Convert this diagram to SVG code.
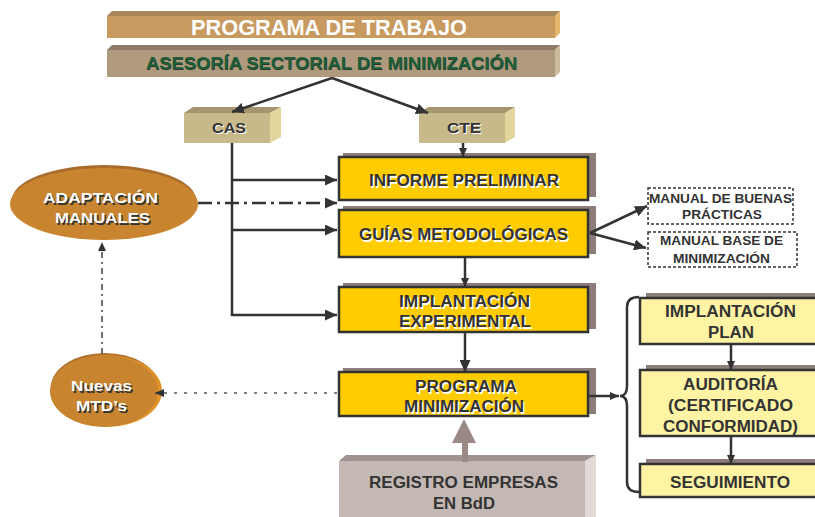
<svg xmlns="http://www.w3.org/2000/svg" width="815" height="517" viewBox="0 0 815 517">
<defs>
<style>
.t{font-family:"Liberation Sans",Arial,sans-serif;font-weight:bold;text-anchor:middle}
.dk{fill:#333333}
.wh{fill:#ffffff}
.box{fill:#FFCC00;stroke:#333333;stroke-width:2.5}
.lbox{fill:#FFF4A3;stroke:#333333;stroke-width:2.5}
.shd{fill:#8C7D7A}
.ln{fill:none;stroke:#333333;stroke-width:2.5}
.dash{fill:#ffffff;stroke:#333333;stroke-width:1.5;stroke-dasharray:3 2}
</style>
<marker id="ah" markerUnits="userSpaceOnUse" markerWidth="12" markerHeight="11" viewBox="0 0 12 11" refX="12" refY="5.5" orient="auto">
<path d="M0,0 L12,5.5 L0,11 z" fill="#333333"/>
</marker>
<marker id="ahs" markerUnits="userSpaceOnUse" markerWidth="9" markerHeight="8" viewBox="0 0 9 8" refX="9" refY="4" orient="auto">
<path d="M0,0 L9,4 L0,8 z" fill="#333333"/>
</marker>
</defs>
<rect width="815" height="517" fill="#ffffff"/>

<g id="programa-trabajo">
<polygon points="107,16 112,11 560,11 555,16" fill="#A8875C"/>
<polygon points="555,16 560,11 560,33 555,38" fill="#E6B66C"/>
<rect x="107" y="16" width="448" height="22" fill="#C89A5F"/>
<text class="t wh" x="329" y="35" font-size="22" textLength="276" lengthAdjust="spacingAndGlyphs">PROGRAMA DE TRABAJO</text>
</g>

<g id="asesoria">
<polygon points="107,50 112,45 560,45 555,50" fill="#8F7C69"/>
<polygon points="555,50 560,45 560,72 555,77" fill="#CDBB9E"/>
<rect x="107" y="50" width="448" height="27" fill="#B09A7E"/>
<text class="t" x="332" y="70" font-size="16" fill="#2A3A2E" textLength="371" lengthAdjust="spacingAndGlyphs">ASESORÍA SECTORIAL DE MINIMIZACIÓN</text>
<text class="t" x="331.5" y="69" font-size="16" fill="#1E5E38" textLength="371" lengthAdjust="spacingAndGlyphs">ASESORÍA SECTORIAL DE MINIMIZACIÓN</text>
</g>

<g id="cas">
<polygon points="184,113 193,107 281,107 270,113" fill="#A6966E"/>
<polygon points="270,113 281,107 281,137 270,143" fill="#E2D69C"/>
<rect x="184" y="113" width="86" height="30" fill="#C8B98A"/>
<text class="t wh" x="230" y="134" font-size="15" textLength="34" lengthAdjust="spacingAndGlyphs">CAS</text>
<text class="t dk" x="229" y="133" font-size="15" textLength="34" lengthAdjust="spacingAndGlyphs">CAS</text>
</g>

<g id="cte">
<polygon points="419,113 428,107 515,107 505,113" fill="#A6966E"/>
<polygon points="505,113 515,107 515,137 505,143" fill="#E2D69C"/>
<rect x="419" y="113" width="86" height="30" fill="#C8B98A"/>
<text class="t wh" x="465" y="134" font-size="15" textLength="34" lengthAdjust="spacingAndGlyphs">CTE</text>
<text class="t dk" x="464" y="133" font-size="15" textLength="34" lengthAdjust="spacingAndGlyphs">CTE</text>
</g>

<g id="informe-preliminar">
<rect class="shd" x="343" y="153" width="253" height="44"/>
<rect class="box" x="339" y="157" width="249" height="43"/>
<text class="t wh" x="465.5" y="187.5" font-size="16" textLength="190" lengthAdjust="spacingAndGlyphs">INFORME PRELIMINAR</text>
<text class="t dk" x="464" y="186" font-size="16" textLength="190" lengthAdjust="spacingAndGlyphs">INFORME PRELIMINAR</text>
</g>

<g id="guias-metodologicas">
<rect class="shd" x="343" y="206" width="253" height="48"/>
<rect class="box" x="339" y="210" width="249" height="47"/>
<text class="t wh" x="465" y="241.5" font-size="16" textLength="209" lengthAdjust="spacingAndGlyphs">GUÍAS METODOLÓGICAS</text>
<text class="t dk" x="463.5" y="240" font-size="16" textLength="209" lengthAdjust="spacingAndGlyphs">GUÍAS METODOLÓGICAS</text>
</g>

<g id="implantacion-experimental">
<rect class="shd" x="343" y="283" width="253" height="46"/>
<rect class="box" x="339" y="287" width="249" height="45"/>
<text class="t wh" x="466" y="308.5" font-size="16" textLength="131" lengthAdjust="spacingAndGlyphs">IMPLANTACIÓN</text>
<text class="t dk" x="464.5" y="307" font-size="16" textLength="131" lengthAdjust="spacingAndGlyphs">IMPLANTACIÓN</text>
<text class="t wh" x="466.5" y="328.5" font-size="16" textLength="132" lengthAdjust="spacingAndGlyphs">EXPERIMENTAL</text>
<text class="t dk" x="465" y="327" font-size="16" textLength="132" lengthAdjust="spacingAndGlyphs">EXPERIMENTAL</text>
</g>

<g id="programa-minimizacion">
<rect class="shd" x="343" y="368" width="253" height="46"/>
<rect class="box" x="339" y="372" width="249" height="44"/>
<text class="t wh" x="467.5" y="393.5" font-size="16" textLength="102" lengthAdjust="spacingAndGlyphs">PROGRAMA</text>
<text class="t dk" x="466" y="392" font-size="16" textLength="102" lengthAdjust="spacingAndGlyphs">PROGRAMA</text>
<text class="t wh" x="465.5" y="413.5" font-size="16" textLength="120" lengthAdjust="spacingAndGlyphs">MINIMIZACIÓN</text>
<text class="t dk" x="464" y="412" font-size="16" textLength="120" lengthAdjust="spacingAndGlyphs">MINIMIZACIÓN</text>
</g>

<g id="registro-empresas">
<polygon points="339,461 346,455 596,455 585,461" fill="#A09290"/>
<polygon points="585,461 596,455 596,517 585,517" fill="#E2DAD7"/>
<rect x="339" y="461" width="246" height="56" fill="#C4B8B4"/>
<text class="t dk" x="463.5" y="488" font-size="16" textLength="189" lengthAdjust="spacingAndGlyphs">REGISTRO EMPRESAS</text>
<text class="t dk" x="464" y="509" font-size="16" textLength="62" lengthAdjust="spacingAndGlyphs">EN BdD</text>
</g>

<g id="adaptacion-manuales">
<ellipse cx="104" cy="200" rx="92" ry="35" fill="#A86C2E"/>
<ellipse cx="104" cy="204" rx="94" ry="36" fill="#C8842E"/>
<text class="t dk" x="102" y="204.5" font-size="15" textLength="115" lengthAdjust="spacingAndGlyphs">ADAPTACIÓN</text>
<text class="t wh" x="100.5" y="203" font-size="15" textLength="115" lengthAdjust="spacingAndGlyphs">ADAPTACIÓN</text>
<text class="t dk" x="104" y="224.5" font-size="15" textLength="95" lengthAdjust="spacingAndGlyphs">MANUALES</text>
<text class="t wh" x="102.5" y="223" font-size="15" textLength="95" lengthAdjust="spacingAndGlyphs">MANUALES</text>
</g>

<g id="nuevas-mtds">
<ellipse cx="105" cy="387" rx="54" ry="34" fill="#B0702E"/>
<ellipse cx="107" cy="391" rx="55" ry="36" fill="#E0922A"/>
<ellipse cx="104" cy="391" rx="54" ry="36" fill="#C8842E"/>
<text class="t dk" x="103" y="392.5" font-size="15" textLength="61" lengthAdjust="spacingAndGlyphs">Nuevas</text>
<text class="t wh" x="101.5" y="391" font-size="15" textLength="61" lengthAdjust="spacingAndGlyphs">Nuevas</text>
<text class="t dk" x="103" y="412.5" font-size="15" textLength="51" lengthAdjust="spacingAndGlyphs">MTD’s</text>
<text class="t wh" x="101.5" y="411" font-size="15" textLength="51" lengthAdjust="spacingAndGlyphs">MTD’s</text>
</g>

<g id="manual-buenas-practicas">
<rect class="dash" x="648" y="188" width="145" height="36"/>
<text class="t dk" x="720.5" y="203" font-size="12.5" textLength="143" lengthAdjust="spacingAndGlyphs">MANUAL DE BUENAS</text>
<text class="t dk" x="722" y="219" font-size="12.5" textLength="80" lengthAdjust="spacingAndGlyphs">PRÁCTICAS</text>
</g>

<g id="manual-base-minimizacion">
<rect class="dash" x="648" y="232" width="149" height="35"/>
<text class="t dk" x="721.5" y="245" font-size="12.5" textLength="123" lengthAdjust="spacingAndGlyphs">MANUAL BASE DE</text>
<text class="t dk" x="721.5" y="263" font-size="12.5" textLength="97" lengthAdjust="spacingAndGlyphs">MINIMIZACIÓN</text>
</g>

<g id="implantacion-plan">
<rect class="shd" x="646" y="293" width="180" height="48"/>
<rect class="lbox" x="640" y="298" width="185" height="46"/>
<text class="t dk" x="730.5" y="317" font-size="16" textLength="131" lengthAdjust="spacingAndGlyphs">IMPLANTACIÓN</text>
<text class="t dk" x="731" y="338" font-size="16" textLength="46" lengthAdjust="spacingAndGlyphs">PLAN</text>
</g>

<g id="auditoria">
<rect class="shd" x="646" y="365" width="180" height="68"/>
<rect class="lbox" x="640" y="370" width="185" height="66"/>
<text class="t dk" x="730.5" y="390" font-size="16" textLength="95" lengthAdjust="spacingAndGlyphs">AUDITORÍA</text>
<text class="t dk" x="730.5" y="411" font-size="16" textLength="125" lengthAdjust="spacingAndGlyphs">(CERTIFICADO</text>
<text class="t dk" x="730.5" y="432" font-size="16" textLength="135" lengthAdjust="spacingAndGlyphs">CONFORMIDAD)</text>
</g>

<g id="seguimiento">
<rect class="shd" x="646" y="459" width="180" height="34"/>
<rect class="lbox" x="640" y="464" width="185" height="33"/>
<text class="t dk" x="730" y="488" font-size="16" textLength="120" lengthAdjust="spacingAndGlyphs">SEGUIMIENTO</text>
</g>

<g id="connectors">
<line class="ln" x1="332" y1="78" x2="232" y2="112" marker-end="url(#ah)"/>
<line class="ln" x1="332" y1="78" x2="428" y2="113" marker-end="url(#ah)"/>
<line class="ln" x1="463" y1="143" x2="463" y2="157" stroke-width="2" marker-end="url(#ahs)"/>
<polyline class="ln" points="232,143 232,315 337,315" marker-end="url(#ah)"/>
<line class="ln" x1="232" y1="180" x2="337" y2="180" marker-end="url(#ah)"/>
<line class="ln" x1="232" y1="230" x2="337" y2="230" marker-end="url(#ah)"/>
<line class="ln" x1="198" y1="203" x2="337" y2="203" stroke-dasharray="14 5 3 5" marker-end="url(#ah)"/>
<line class="ln" x1="465" y1="257" x2="465" y2="287" marker-end="url(#ahs)"/>
<line class="ln" x1="465" y1="332" x2="465" y2="372" marker-end="url(#ah)"/>
<line class="ln" x1="589" y1="396" x2="619" y2="396" marker-end="url(#ahs)"/>
<line class="ln" x1="590" y1="233" x2="647" y2="206" marker-end="url(#ah)"/>
<line class="ln" x1="590" y1="233" x2="646" y2="248" marker-end="url(#ah)"/>
<line x1="337" y1="393" x2="155" y2="393" stroke="#555555" stroke-width="1.5" stroke-dasharray="3 7" marker-end="url(#ahs)"/>
<line x1="102" y1="354" x2="102" y2="242" stroke="#444444" stroke-width="1.5" stroke-dasharray="6 4 2 4" marker-end="url(#ahs)"/>
<line class="ln" x1="731" y1="344" x2="731" y2="370" marker-end="url(#ahs)"/>
<line class="ln" x1="731" y1="436" x2="731" y2="464" marker-end="url(#ahs)"/>
<path class="ln" d="M639,297 Q627,297 627,307 L627,386 Q627,396 620,396 Q627,396 627,406 L627,482 Q627,492 639,492"/>
<polygon points="462,462 462,443 452,443 464,419 476,443 468,443 468,462" fill="#9B8985"/>
</g>
</svg>
